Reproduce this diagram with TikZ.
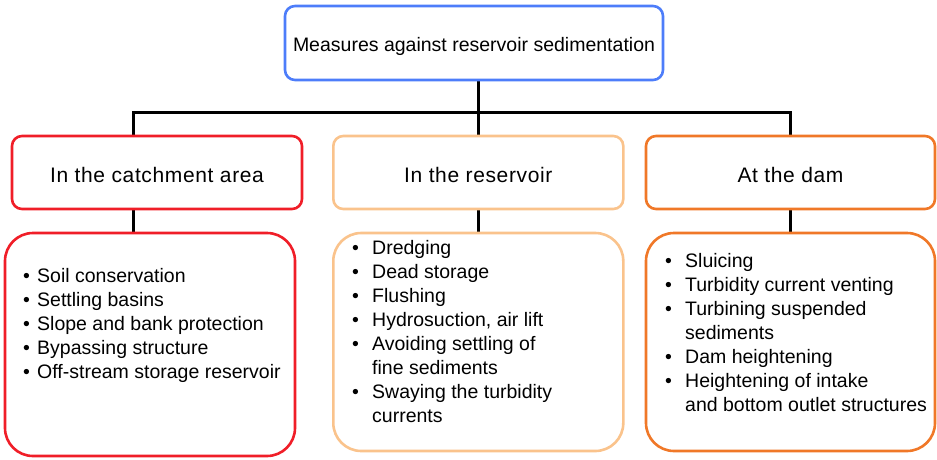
\documentclass[tikz,border=0pt]{standalone}
\usepackage{fontspec}
\setmainfont{Liberation Sans}
\usetikzlibrary{backgrounds}
\definecolor{topblue}{RGB}{77,125,250}
\definecolor{cred}{RGB}{240,30,40}
\definecolor{cpeach}{RGB}{250,195,140}
\definecolor{corange}{RGB}{240,120,40}
\newcommand{\topfnt}{\fontsize{19.5}{24}\selectfont}
\newcommand{\hdrfnt}{\fontsize{21}{25}\selectfont\addfontfeature{LetterSpace=3}}
\newcommand{\lstfnt}{\fontsize{19.5}{24}\selectfont}
\begin{document}
\begin{tikzpicture}[x=1pt,y=-1pt,
  hdr/.style={draw, fill=white, line width=2.6pt, rounded corners=10pt, inner sep=0pt, minimum width=290pt, minimum height=73pt},
  cnt/.style={draw, fill=white, line width=2.6pt, rounded corners=28pt, inner sep=0pt, minimum width=290pt},
  lbl/.style={inner sep=0pt, anchor=base, font=\hdrfnt},
  lst/.style={inner sep=0pt, anchor=base west, font=\lstfnt},
  conn/.style={draw=black, line width=3pt}]
\useasboundingbox (0,0) rectangle (937,459);
% top
\node[draw=topblue, fill=white, line width=2.6pt, rounded corners=10pt, inner sep=0pt, minimum width=378pt, minimum height=74pt] (top) at (474,43) {};
\node[inner sep=0pt, anchor=base, font=\topfnt] (toptxt) at (474,51) {Measures against reservoir sedimentation};
% headers
\node[hdr, draw=cred] (lh) at (157,172.5) {};
\node[hdr, draw=cpeach] (mh) at (478.3,172.5) {};
\node[hdr, draw=corange, minimum width=289pt] (rh) at (790.5,172.5) {};
\node[lbl] (lht) at (157,182) {In the catchment area};
\node[lbl] (mht) at (478.3,182) {In the reservoir};
\node[lbl] (rht) at (790.5,182) {At the dam};
% contents
\node[cnt, draw=cred, minimum height=223pt] (lc) at (150,344.5) {};
\node[cnt, draw=cpeach, minimum height=218pt] (mc) at (478.3,342) {};
\node[cnt, draw=corange, minimum width=289pt, minimum height=218pt] (rc) at (790.5,342) {};
\node[lst] (ll) at (23,282) {\begin{tabular}[t]{@{}p{14pt}@{}l@{}}
\textbullet & Soil conservation\\
\textbullet & Settling basins\\
\textbullet & Slope and bank protection\\
\textbullet & Bypassing structure\\
\textbullet & Off-stream storage reservoir
\end{tabular}};
\node[lst] (ml) at (352,254) {\begin{tabular}[t]{@{}p{20pt}@{}l@{}}
\textbullet & Dredging\\
\textbullet & Dead storage\\
\textbullet & Flushing\\
\textbullet & Hydrosuction, air lift\\
\textbullet & Avoiding settling of\\
 & fine sediments\\
\textbullet & Swaying the turbidity\\
 & currents
\end{tabular}};
\node[lst] (rl) at (665,267) {\begin{tabular}[t]{@{}p{20pt}@{}l@{}}
\textbullet & Sluicing\\
\textbullet & Turbidity current venting\\
\textbullet & Turbining suspended\\
 & sediments\\
\textbullet & Dam heightening\\
\textbullet & Heightening of intake\\
 & and bottom outlet structures
\end{tabular}};
% connectors
\coordinate (busL) at (133,112);
\coordinate (busR) at (790.5,112);
\begin{scope}[on background layer]
\draw[conn] (busL |- lh.north) -- (busL) -- (busR) -- (rh.north);
\draw[conn] (top.south -| mh.north) -- (mh.north);
\draw[conn] (lh.south -| busL) -- (lc.north -| busL);
\draw[conn] (mh.south) -- (mc.north);
\draw[conn] (rh.south) -- (rc.north);
\end{scope}
\end{tikzpicture}
\end{document}
